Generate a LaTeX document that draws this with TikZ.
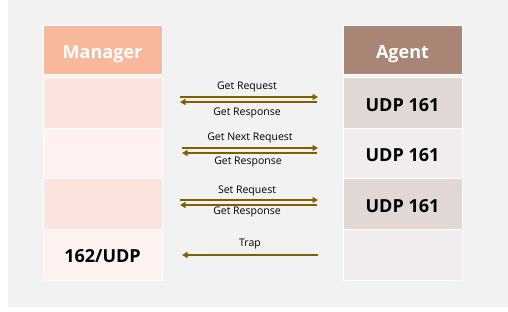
\documentclass[tikz,border=0pt]{standalone}
\usepackage{fontspec}
\setmainfont{Open Sans}
\usetikzlibrary{arrows.meta}
\definecolor{bgc}{HTML}{F2F2F2}
\definecolor{mhead}{HTML}{F8B89B}
\definecolor{mdark}{HTML}{FBE4DD}
\definecolor{mlight}{HTML}{FDF2EF}
\definecolor{ahead}{HTML}{A98576}
\definecolor{adark}{HTML}{E1D7D4}
\definecolor{alight}{HTML}{F1EDEC}
\definecolor{arr}{HTML}{7F6000}
\tikzset{
  cell/.style={draw=white, line width=1pt, minimum width=119pt, minimum height=50.5pt, inner sep=0pt, text height=16.5pt, text depth=0.5pt, font=\bfseries\fontsize{18}{20}\selectfont},
  headcell/.style={cell, minimum height=49pt, text=white},
  msg/.style={draw=arr, line width=1.8pt, -{Triangle[length=5.5pt,width=6pt]}},
  lbl/.style={font=\fontsize{10.5}{12}\selectfont, inner sep=0pt}
}
\begin{document}
\begin{tikzpicture}[x=1pt,y=-1pt]
\useasboundingbox (0,0) rectangle (508,312);
\fill[white] (0,0) rectangle (508,312);
\fill[bgc] (8,0) rectangle (508,307);
% Manager column
\node[headcell, fill=mhead] (mh) at (102.5,50.5) {Manager};
\node[cell, fill=mdark] (m1) at (102.5,103.25) {};
\node[cell, fill=mlight] (m2) at (102.5,153.75) {};
\node[cell, fill=mdark] (m3) at (102.5,204.25) {};
\node[cell, fill=mlight] (m4) at (102.5,254.75) {162/UDP};
% Agent column
\node[headcell, fill=ahead] (ah) at (402.5,50.5) {Agent};
\node[cell, fill=adark] (a1) at (402.5,103.25) {UDP 161};
\node[cell, fill=alight] (a2) at (402.5,153.75) {UDP 161};
\node[cell, fill=adark] (a3) at (402.5,204.25) {UDP 161};
\node[cell, fill=alight] (a4) at (402.5,254.75) {};
% arrow end points
\coordinate (r1s) at (180,97);  \coordinate (r1e) at (318,97);
\coordinate (l1s) at (317,102); \coordinate (l1e) at (180,102);
\coordinate (r2s) at (182,148); \coordinate (r2e) at (318,148);
\coordinate (l2s) at (317,153); \coordinate (l2e) at (182,153);
\coordinate (r3s) at (180,200); \coordinate (r3e) at (318,200);
\coordinate (l3s) at (317,205); \coordinate (l3e) at (180,205);
\coordinate (ts) at (318,255);  \coordinate (te) at (182,255);
\draw[msg] (r1s) -- (r1e);
\draw[msg] (l1s) -- (l1e);
\draw[msg] (r2s) -- (r2e);
\draw[msg] (l2s) -- (l2e);
\draw[msg] (r3s) -- (r3e);
\draw[msg] (l3s) -- (l3e);
\draw[msg] (ts) -- (te);
% labels
\node[lbl] (t1) at (247,87) {Get Request};
\node[lbl] (t2) at (247,113) {Get Response};
\node[lbl] (t3) at (250,138) {Get Next Request};
\node[lbl] (t4) at (248,162) {Get Response};
\node[lbl] (t5) at (247,191) {Set Request};
\node[lbl] (t6) at (247,212) {Get Response};
\node[lbl] (t7) at (250,244) {Trap};
\end{tikzpicture}
\end{document}
